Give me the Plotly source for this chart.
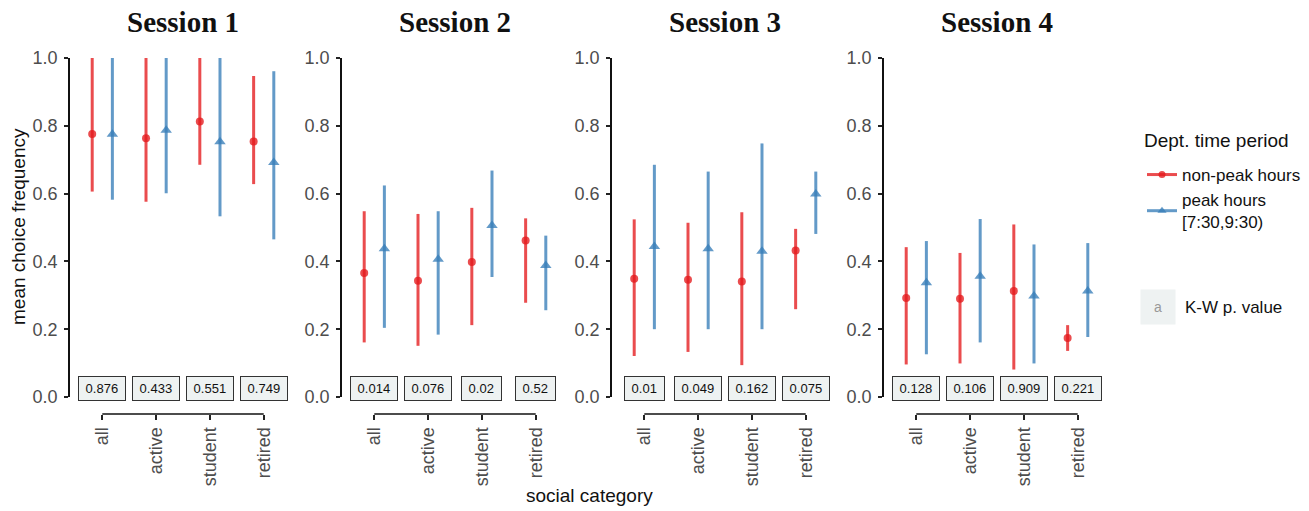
import plotly.graph_objects as go

categories = ["all", "active", "student", "retired"]
sessions = ["Session 1", "Session 2", "Session 3", "Session 4"]

# non-peak hours: mean and interval, one row per session
offpeak_mean = [
    [0.776, 0.763, 0.813, 0.754],
    [0.366, 0.343, 0.398, 0.462],
    [0.349, 0.346, 0.341, 0.432],
    [0.292, 0.290, 0.313, 0.174],
]
offpeak_low = [
    [0.606, 0.576, 0.685, 0.628],
    [0.161, 0.151, 0.212, 0.278],
    [0.121, 0.133, 0.094, 0.259],
    [0.096, 0.099, 0.081, 0.136],
]
offpeak_high = [
    [1.0, 1.0, 1.0, 0.947],
    [0.548, 0.540, 0.558, 0.527],
    [0.524, 0.514, 0.545, 0.496],
    [0.442, 0.425, 0.509, 0.212],
]

# peak hours [7:30,9:30)
peak_mean = [
    [0.775, 0.787, 0.753, 0.692],
    [0.437, 0.406, 0.506, 0.388],
    [0.444, 0.437, 0.430, 0.599],
    [0.337, 0.356, 0.298, 0.313],
]
peak_low = [
    [0.582, 0.601, 0.533, 0.465],
    [0.204, 0.184, 0.354, 0.256],
    [0.200, 0.200, 0.200, 0.481],
    [0.126, 0.161, 0.099, 0.177],
]
peak_high = [
    [1.0, 1.0, 1.0, 0.961],
    [0.624, 0.548, 0.668, 0.476],
    [0.685, 0.665, 0.748, 0.665],
    [0.460, 0.525, 0.450, 0.454],
]

# Kruskal-Wallis p values
kw_pvalues = [
    ["0.876", "0.433", "0.551", "0.749"],
    ["0.014", "0.076", "0.02", "0.52"],
    ["0.01", "0.049", "0.162", "0.075"],
    ["0.128", "0.106", "0.909", "0.221"],
]

RED = "rgba(228,26,28,0.78)"
BLUE = "rgba(55,126,184,0.78)"
BOXFILL = "#EEF2F2"
AXIS_GREY = "#4D4D4D"
FONT = "Liberation Sans"

W, H = 1309, 511
x_domains = [[70 / W, 296 / W], [342 / W, 568 / W], [612 / W, 838 / W], [884 / W, 1110 / W]]
y_domain = [1 - 397 / H, 1 - 58 / H]
xaxis_pos = 1 - 414 / H
LABEL_Y = 0.026

fig = go.Figure()
annotations = []
shapes = []

for i in range(4):
    sfx = "" if i == 0 else str(i + 1)
    xa, ya = "x" + sfx, "y" + sfx

    # non-peak
    fig.add_trace(go.Scatter(
        x=categories, y=offpeak_mean[i],
        mode="markers",
        marker=dict(symbol="circle", size=8, color=RED),
        error_y=dict(type="data", symmetric=False,
                     array=[h - m for h, m in zip(offpeak_high[i], offpeak_mean[i])],
                     arrayminus=[m - l for m, l in zip(offpeak_mean[i], offpeak_low[i])],
                     width=0, thickness=3, color=RED),
        offsetgroup="np", showlegend=False, cliponaxis=False,
        xaxis=xa, yaxis=ya))
    # peak
    fig.add_trace(go.Scatter(
        x=categories, y=peak_mean[i],
        mode="markers",
        marker=dict(symbol="triangle-up", size=10, color=BLUE),
        error_y=dict(type="data", symmetric=False,
                     array=[h - m for h, m in zip(peak_high[i], peak_mean[i])],
                     arrayminus=[m - l for m, l in zip(peak_mean[i], peak_low[i])],
                     width=0, thickness=3, color=BLUE),
        offsetgroup="pk", showlegend=False, cliponaxis=False,
        xaxis=xa, yaxis=ya))

    fig.layout["xaxis" + sfx] = dict(
        domain=x_domains[i], type="category", categoryarray=categories,
        range=[-0.6, 3.6], anchor="free", position=xaxis_pos,
        showline=False, showgrid=False, zeroline=False, automargin=False,
        ticks="outside", ticklen=5, tickwidth=1.5, tickcolor="#222222",
        tickangle=-90, tickfont=dict(size=18, color=AXIS_GREY, family=FONT),
        ticklabelstandoff=0, fixedrange=True)
    fig.layout["yaxis" + sfx] = dict(
        domain=y_domain, range=[0, 1], anchor=xa, automargin=False,
        showline=True, linecolor="#111111", linewidth=1.5,
        showgrid=False, zeroline=False,
        ticks="outside", ticklen=4, tickwidth=1.5, tickcolor="#222222",
        tickvals=[0, 0.2, 0.4, 0.6, 0.8, 1.0], tickformat=".1f",
        tickfont=dict(size=18, color=AXIS_GREY, family=FONT),
        ticklabelstandoff=3, fixedrange=True)

    # capped x axis line
    shapes.append(dict(type="line", xref=xa, yref="paper",
                       x0=categories[0], x1=categories[-1],
                       y0=xaxis_pos, y1=xaxis_pos,
                       line=dict(color="#111111", width=1.5)))

    # panel title
    annotations.append(dict(xref="paper", yref="paper",
                            x=sum(x_domains[i]) / 2, y=1 - 22 / H,
                            xanchor="center", yanchor="middle",
                            text="<b>" + sessions[i] + "</b>", showarrow=False,
                            font=dict(family="Liberation Serif", size=29, color="#111111")))

    # K-W labels
    for c, p in zip(categories, kw_pvalues[i]):
        annotations.append(dict(xref=xa, yref=ya, x=c, y=LABEL_Y,
                                xanchor="center", yanchor="middle",
                                text="\u2009" + p + "\u2009", showarrow=False,
                                bgcolor=BOXFILL, bordercolor="#333333",
                                borderwidth=1, borderpad=4,
                                font=dict(size=13, color="#111111", family=FONT)))

# legend entries
fig.add_trace(go.Scatter(x=[None], y=[None], mode="lines+markers",
                         name="non-peak hours", offsetgroup="np",
                         line=dict(color=RED, width=3),
                         marker=dict(symbol="circle", size=7, color=RED),
                         xaxis="x4", yaxis="y4"))
fig.add_trace(go.Scatter(x=[None], y=[None], mode="lines+markers",
                         name="peak hours<br>[7:30,9:30)", offsetgroup="pk",
                         line=dict(color=BLUE, width=3),
                         marker=dict(symbol="triangle-up", size=8, color=BLUE),
                         xaxis="x4", yaxis="y4"))

# legend title
annotations.append(dict(xref="paper", yref="paper", x=1142 / W, y=1 - 140 / H,
                        xanchor="left", yanchor="middle",
                        text="Dept. time period", showarrow=False,
                        font=dict(size=19, color="#111111", family=FONT)))

# axis titles
annotations.append(dict(xref="paper", yref="paper", x=18 / W, y=1 - 227 / H,
                        xanchor="center", yanchor="middle",
                        text="mean choice frequency", textangle=-90, showarrow=False,
                        font=dict(size=19, color="#111111", family=FONT)))
annotations.append(dict(xref="paper", yref="paper", x=589 / W, y=1 - 495 / H,
                        xanchor="center", yanchor="middle",
                        text="social category", showarrow=False,
                        font=dict(size=19, color="#111111", family=FONT)))

# K-W key
annotations.append(dict(xref="paper", yref="paper", x=1158 / W, y=1 - 307 / H,
                        xanchor="center", yanchor="middle",
                        text="a", showarrow=False, width=32, height=32,
                        bgcolor=BOXFILL, font=dict(size=14, color="#999999", family=FONT)))
annotations.append(dict(xref="paper", yref="paper", x=1183 / W, y=1 - 307 / H,
                        xanchor="left", yanchor="middle",
                        text="K-W p. value", showarrow=False,
                        font=dict(size=17, color="#111111", family=FONT)))

fig.update_layout(
    width=W, height=H,
    margin=dict(l=0, r=0, t=0, b=0, autoexpand=False),
    plot_bgcolor="white", paper_bgcolor="white",
    scattermode="group", scattergap=0.25,
    font=dict(family=FONT, color="#111111"),
    showlegend=True,
    legend=dict(x=1142 / W, y=1 - 157 / H, xanchor="left", yanchor="top",
                font=dict(size=17, color="#111111"), bgcolor="rgba(0,0,0,0)"),
    annotations=annotations,
    shapes=shapes,
)

fig.write_html("out.html", config=dict(displayModeBar=False),
               post_script="document.body.style.margin='0';")
